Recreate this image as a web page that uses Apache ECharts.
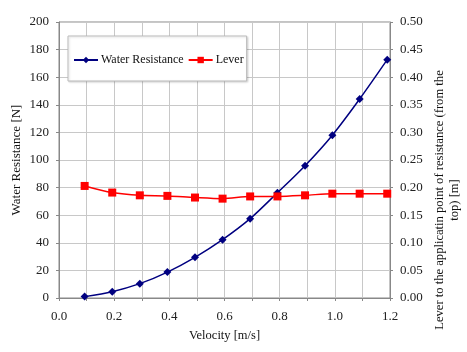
<!DOCTYPE html>
<html><head><meta charset="utf-8">
<script src="https://cdn.jsdelivr.net/npm/echarts@6/dist/echarts.min.js"></script>
<style>html,body{margin:0;padding:0;background:#fff}#c{width:467px;height:352px}</style>
</head><body><div id="c"></div>
<script>
var velocity = [0.093, 0.193, 0.293, 0.393, 0.493, 0.593, 0.693, 0.792, 0.892, 0.991, 1.09, 1.19];
var waterResistance = [1.0, 4.6, 10.4, 18.8, 29.5, 42.3, 57.5, 76.3, 95.9, 118.0, 144.2, 172.7];
var lever = [0.203, 0.191, 0.186, 0.185, 0.182, 0.180, 0.184, 0.184, 0.186, 0.189, 0.189, 0.189];
var xTicks = [0.0, 0.2, 0.4, 0.6, 0.8, 1.0, 1.2];

var font = '"Liberation Serif", "Times New Roman", serif';
var chart = echarts.init(document.getElementById('c'), null, {renderer: 'canvas'});
function pairs(xs, ys) { return xs.map(function (x, i) { return [x, ys[i]]; }); }
chart.setOption({
  animation: false,
  textStyle: {fontFamily: font},
  grid: {left: 59, top: 22, right: 77, bottom: 54, show: true, borderColor: '#888', borderWidth: 1,
         containLabel: false, outerBoundsMode: 'none'},
  legend: {
    left: 68, top: 36, padding: [18, 3, 15, 5], itemGap: 4, itemWidth: 24, itemHeight: 8,
    backgroundColor: '#fff', borderColor: '#bbb', borderWidth: 1,
    shadowColor: 'rgba(0,0,0,0.15)', shadowBlur: 2, shadowOffsetX: 1, shadowOffsetY: 1,
    textStyle: {fontFamily: font, fontSize: 12, color: '#111', padding: [0, 0, 0, -2]},
    data: ['Water Resistance', 'Lever']
  },
  xAxis: {
    type: 'value', min: 0, max: 1.2, interval: 0.1,
    name: 'Velocity [m/s]', nameLocation: 'middle', nameGap: 31, nameMoveOverlap: false,
    nameTextStyle: {fontFamily: font, fontSize: 12.5, color: '#111'},
    axisLine: {show: true, lineStyle: {color: '#888'}},
    axisTick: {show: true, length: 3, lineStyle: {color: '#888'}},
    axisLabel: {
      fontFamily: font, fontSize: 13, color: '#222', margin: 12,
      formatter: function (v) {
        var r = Math.round(v * 10) / 10;
        for (var i = 0; i < xTicks.length; i++) if (Math.abs(xTicks[i] - r) < 1e-6) return r.toFixed(1);
        return '';
      }
    },
    splitLine: {show: true, lineStyle: {color: '#c8c8c8'}}
  },
  yAxis: [{
    type: 'value', min: 0, max: 200, interval: 20,
    name: 'Water Resistance [N]', nameLocation: 'middle', nameGap: 36, nameRotate: 90, nameMoveOverlap: false,
    nameTextStyle: {fontFamily: font, fontSize: 13, color: '#111'},
    axisLine: {show: true, lineStyle: {color: '#888'}},
    axisTick: {show: true, length: 3, lineStyle: {color: '#888'}},
    axisLabel: {fontFamily: font, fontSize: 13, color: '#222', margin: 10},
    splitLine: {show: true, lineStyle: {color: '#c8c8c8'}}
  }, {
    type: 'value', min: 0, max: 0.5, interval: 0.05, position: 'right',
    name: 'Lever to the applicatin point of resistance (from the\ntop) [m]',
    nameLocation: 'middle', nameGap: 42, nameRotate: 90, nameMoveOverlap: false,
    nameTextStyle: {fontFamily: font, fontSize: 12.6, color: '#111', lineHeight: 15, padding: [0, 80, 0, 0], align: 'center'},
    axisLine: {show: true, lineStyle: {color: '#888'}},
    axisTick: {show: true, length: 3, lineStyle: {color: '#888'}},
    axisLabel: {fontFamily: font, fontSize: 13, color: '#222', margin: 10, formatter: function (v) { return v.toFixed(2); }},
    splitLine: {show: false}
  }],
  series: [{
    name: 'Water Resistance', type: 'line', yAxisIndex: 0,
    data: pairs(velocity, waterResistance), smooth: 0.3,
    symbol: 'diamond', symbolSize: 8,
    lineStyle: {color: '#000080', width: 1.5}, itemStyle: {color: '#000080'}
  }, {
    name: 'Lever', type: 'line', yAxisIndex: 1,
    data: pairs(velocity, lever), smooth: 0.3,
    symbol: 'rect', symbolSize: 8,
    lineStyle: {color: '#ff0000', width: 1.5}, itemStyle: {color: '#ff0000'}
  }]
});
</script></body></html>
